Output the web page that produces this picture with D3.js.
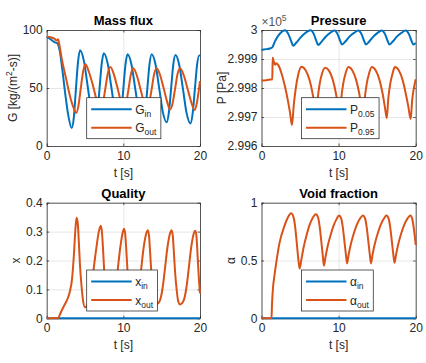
<!DOCTYPE html>
<html><head><meta charset="utf-8">
<script src="https://cdn.jsdelivr.net/npm/d3@7"></script>
<style>
body{margin:0;background:#fff;}
svg{display:block;font-family:"Liberation Sans",Arial,Helvetica,sans-serif;}
</style></head><body>
<svg id="c" width="426" height="363"></svg>
<script>
// ---------- data ----------
const timeTicks = [0, 10, 20];
const timeTickLabels = ["0", "10", "20"];
const gTicks = [0, 50, 100];
const gTickLabels = ["0", "50", "100"];
const pTicks = [299600, 299700, 299800, 299900, 300000];
const pTickLabels = ["2.996", "2.997", "2.998", "2.999", "3"];
const xTicks = [0, 0.1, 0.2, 0.3, 0.4];
const xTickLabels = ["0", "0.1", "0.2", "0.3", "0.4"];
const aTicks = [0, 0.5, 1];
const aTickLabels = ["0", "0.5", "1"];

// Mass flux, inlet
const gInT = [0,0.5,1.0,1.4,1.7,2.0,2.4,2.8,3.26,3.53,3.8,4.08,4.35,4.85,5.35,5.85,6.35,6.63,6.9,7.18,7.45,7.95,8.45,8.95,9.45,9.73,10.0,10.28,10.55,11.05,11.55,12.05,12.55,12.84,13.13,13.41,13.7,14.19,14.68,15.16,15.65,15.94,16.23,16.51,16.8,17.29,17.78,18.26,18.75,19.04,19.33,19.61,19.9,20];
const gInV = [94,92,89.5,88.5,82,68,46,27,15.5,24,48,72,82.5,73.4,51.3,29.1,20,28.8,50,71.2,80,71.2,50,28.8,20,28.6,49.5,70.4,79,70.4,49.5,28.6,20,28.6,49.5,70.4,79,70.5,49.75,29,20.5,29,49.5,70,78.5,69.9,49,28.1,19.5,28,48.75,69.5,78,77.8];
// Mass flux, outlet
const gOutT = [0,0.5,1.0,1.3,1.5,1.6,2.0,2.5,3.0,3.5,3.85,4.15,4.45,4.75,5.05,5.5,6.0,6.5,7.0,7.32,7.65,7.97,8.3,8.75,9.2,9.65,10.05,10.36,10.68,10.99,11.3,11.75,12.2,12.65,13.05,13.37,13.7,14.02,14.35,14.8,15.25,15.7,16.1,16.42,16.75,17.07,17.4,17.88,18.35,18.85,19.3,19.6,19.8,20];
const gOutV = [94.5,93.8,92.5,91,92,89,74,59,44,33,28.5,35,50,64,70.4,64,53,40,31,36.5,49.5,62.5,68,62,51,39,31.5,36.7,49.3,62,67,61,50,38.5,31.5,36.7,49.3,62,67,61,50,38.5,31.5,36.7,49.3,62,67,61,50,38,31,37.5,46,56];

// Pressure at z = 0.05
const p05T = [0,0.6,1.2,1.4,1.8,2.4,3.05,3.5,3.85,4.1,4.5,5.0,5.6,6.35,6.8,7.1,7.35,7.8,8.3,8.9,9.45,9.9,10.2,10.45,10.9,11.4,12.0,12.55,13.0,13.3,13.55,14.0,14.5,15.05,15.6,16.05,16.35,16.6,17.05,17.55,18.15,18.7,19.15,19.45,19.7,20];
const p05V = [299931,299934,299937,299940,299964,299988,299999,299985,299962,299946,299956,299972,299988,299999,299985,299963,299948,299960,299976,299990,299998,299984,299963,299950,299961,299977,299990,299998,299984,299963,299950,299961,299977,299990,299998,299984,299963,299950,299961,299977,299990,299998,299984,299963,299950,299955];
// Pressure at z = 0.95
const p95T = [0,0.6,1.2,1.4,1.45,1.6,1.75,1.9,2.2,2.6,3.0,3.4,3.7,3.95,4.2,4.45,4.75,5.2,5.7,6.2,6.6,6.9,7.1,7.3,7.55,7.85,8.25,8.75,9.25,9.65,9.95,10.15,10.35,10.6,10.9,11.27,11.77,12.27,12.67,12.97,13.2,13.4,13.65,13.95,14.3,14.8,15.3,15.7,16.0,16.25,16.45,16.7,17.0,17.3,17.8,18.3,18.7,19.05,19.35,19.55,19.8,20];
const p95V = [299826,299827,299829,299830,299905,299890,299880,299885,299878,299850,299810,299760,299715,299672,299745,299800,299845,299873,299862,299830,299785,299735,299695,299765,299815,299850,299870,299860,299828,299782,299735,299697,299765,299815,299850,299872,299861,299828,299782,299735,299696,299765,299815,299850,299872,299861,299828,299782,299735,299696,299765,299815,299850,299872,299861,299828,299782,299735,299693,299760,299805,299830];

// Quality
const xInT = [0, 20];
const xInV = [0, 0];
const xOutT = [0,1.5,1.75,2.2,2.6,3.0,3.3,3.55,3.75,3.9,4.05,4.2,4.35,4.55,4.75,5.0,5.3,5.6,5.85,6.1,6.5,6.8,7.05,7.2,7.35,7.5,7.7,7.9,8.15,8.45,8.75,9.0,9.25,9.6,9.9,10.1,10.25,10.4,10.55,10.75,10.95,11.2,11.5,11.8,12.05,12.3,12.65,12.95,13.2,13.35,13.5,13.65,13.85,14.05,14.3,14.6,14.9,15.15,15.4,15.75,16.05,16.3,16.45,16.6,16.75,16.95,17.15,17.4,17.7,18.0,18.25,18.5,18.85,19.15,19.4,19.55,19.7,19.85,20];
const xOutV = [0,0,0.015,0.04,0.06,0.09,0.135,0.22,0.31,0.348,0.33,0.26,0.18,0.11,0.06,0.038,0.045,0.07,0.11,0.165,0.248,0.30,0.32,0.30,0.24,0.165,0.10,0.06,0.045,0.05,0.072,0.11,0.165,0.245,0.295,0.31,0.29,0.23,0.16,0.10,0.06,0.047,0.052,0.073,0.11,0.165,0.245,0.29,0.305,0.285,0.225,0.16,0.10,0.06,0.048,0.053,0.073,0.11,0.165,0.245,0.29,0.305,0.285,0.225,0.16,0.10,0.06,0.048,0.053,0.073,0.11,0.165,0.245,0.29,0.303,0.28,0.21,0.14,0.086];

// Void fraction
const aInT = [0, 20];
const aInV = [0, 0];
const aOutT = [0,1.3,1.35,1.47,1.7,1.9,2.33,2.98,3.4,3.85,4.15,4.35,4.55,4.75,4.95,5.15,5.45,5.85,6.25,6.65,7.05,7.35,7.55,7.75,7.95,8.1,8.3,8.6,9.0,9.4,9.75,10.05,10.35,10.55,10.75,10.95,11.1,11.3,11.6,12.0,12.4,12.8,13.15,13.45,13.65,13.85,14.05,14.2,14.4,14.7,15.1,15.5,15.9,16.2,16.5,16.7,16.9,17.1,17.25,17.45,17.75,18.15,18.55,18.95,19.3,19.55,19.75,19.9,20];
const aOutV = [0,0,0.1,0.245,0.38,0.475,0.65,0.8,0.87,0.908,0.875,0.80,0.67,0.53,0.43,0.5,0.61,0.72,0.81,0.87,0.90,0.87,0.79,0.67,0.54,0.455,0.53,0.63,0.73,0.81,0.86,0.89,0.86,0.785,0.67,0.55,0.475,0.55,0.645,0.74,0.815,0.865,0.89,0.86,0.785,0.67,0.55,0.475,0.55,0.645,0.74,0.815,0.865,0.89,0.86,0.785,0.67,0.55,0.48,0.55,0.645,0.74,0.815,0.865,0.89,0.86,0.78,0.70,0.634];

// ---------- drawing ----------
const blue = "#0072BD", orange = "#D95319";
const ink = "#262626";
const svg = d3.select("#c");

const panels = [
  { box: [46.7, 30, 200, 146], title: "Mass flux", ydom: [0, 100], yticks: gTicks, ylabs: gTickLabels,
    ylabel: [["G [kg/(m", 0], ["2", 1], ["-s)]", 0]], ylabX: -30.2,
    series: [{ t: gInT, v: gInV, c: blue, name: ["G", "in"] }, { t: gOutT, v: gOutV, c: orange, name: ["G", "out"] }] },
  { box: [261.5, 30, 415.7, 146], title: "Pressure", ydom: [299600, 300000], yticks: pTicks, ylabs: pTickLabels,
    ylabel: [["P [Pa]", 0]], ylabX: -36, exponent: true,
    series: [{ t: p05T, v: p05V, c: blue, name: ["P", "0.05"] }, { t: p95T, v: p95V, c: orange, name: ["P", "0.95"] }] },
  { box: [46.7, 202.7, 200, 318.3], title: "Quality", ydom: [0, 0.4], yticks: xTicks, ylabs: xTickLabels,
    ylabel: [["x", 0]], ylabX: -26.5,
    series: [{ t: xInT, v: xInV, c: blue, name: ["x", "in"] }, { t: xOutT, v: xOutV, c: orange, name: ["x", "out"] }] },
  { box: [261.5, 202.7, 415.7, 318.3], title: "Void fraction", ydom: [0, 1], yticks: aTicks, ylabs: aTickLabels,
    ylabel: [["α", 0]], ylabX: -26.5,
    series: [{ t: aInT, v: aInV, c: blue, name: ["α", "in"] }, { t: aOutT, v: aOutV, c: orange, name: ["α", "out"] }] }
];

function styleAxis(s) {
  s.attr("font-family", null).attr("font-size", 12);
  s.selectAll("text").attr("fill", ink);
  s.selectAll("line").attr("stroke", ink).attr("stroke-width", 0.75);
  s.select(".domain").attr("stroke", ink).attr("stroke-width", 0.75);
}

panels.forEach((p, i) => {
  const [x0, y0, x1, y1] = p.box;
  const w = x1 - x0, h = y1 - y0;
  const x = d3.scaleLinear().domain([0, 20]).range([x0, x1]);
  const y = d3.scaleLinear().domain(p.ydom).range([y1, y0]);
  const g = svg.append("g");

  // white background
  g.append("rect").attr("x", x0).attr("y", y0).attr("width", w).attr("height", h).attr("fill", "#fff");

  // grid
  g.append("g").attr("transform", `translate(0,${y1})`)
    .call(d3.axisBottom(x).tickValues(timeTicks).tickSize(-h).tickFormat(""))
    .call(s => { s.select(".domain").remove(); s.selectAll("line").attr("stroke", "#dfdfdf").attr("stroke-width", 0.75); });
  g.append("g").attr("transform", `translate(${x0},0)`)
    .call(d3.axisLeft(y).tickValues(p.yticks).tickSize(-w).tickFormat(""))
    .call(s => { s.select(".domain").remove(); s.selectAll("line").attr("stroke", "#dfdfdf").attr("stroke-width", 0.75); });

  // axes (box with inward ticks)
  g.append("g").attr("transform", `translate(0,${y1})`)
    .call(d3.axisBottom(x).tickValues(timeTicks).tickFormat((d, k) => timeTickLabels[k]).tickSizeInner(-2.5).tickSizeOuter(0).tickPadding(5.5))
    .call(styleAxis);
  g.append("g").attr("transform", `translate(0,${y0})`)
    .call(d3.axisTop(x).tickValues(timeTicks).tickFormat("").tickSizeInner(-2.5).tickSizeOuter(0))
    .call(styleAxis);
  g.append("g").attr("transform", `translate(${x0},0)`)
    .call(d3.axisLeft(y).tickValues(p.yticks).tickFormat((d, k) => p.ylabs[k]).tickSizeInner(-2.5).tickSizeOuter(0).tickPadding(4))
    .call(styleAxis);
  g.append("g").attr("transform", `translate(${x1},0)`)
    .call(d3.axisRight(y).tickValues(p.yticks).tickFormat("").tickSizeInner(-2.5).tickSizeOuter(0))
    .call(styleAxis);

  // clip
  const cid = "clip" + i;
  svg.append("clipPath").attr("id", cid).append("rect")
    .attr("x", x0 - 1.5).attr("y", y0 - 1.5).attr("width", w + 3).attr("height", h + 3);

  const line = d3.line().x(d => x(d[0])).y(d => y(d[1])).curve(d3.curveMonotoneX);
  const lg = g.append("g").attr("clip-path", `url(#${cid})`);
  p.series.forEach(s => {
    lg.append("path").datum(d3.zip(s.t, s.v)).attr("d", line)
      .attr("fill", "none").attr("stroke", s.c).attr("stroke-width", 2).attr("stroke-linejoin", "round");
  });

  // title
  g.append("text").attr("x", (x0 + x1) / 2).attr("y", y0 - 5).attr("text-anchor", "middle")
    .attr("font-size", 13).attr("font-weight", "bold").attr("fill", "#000").text(p.title);

  // y label
  const yl = g.append("text").attr("transform", `translate(${x0 + p.ylabX},${(y0 + y1) / 2}) rotate(-90)`)
    .attr("text-anchor", "middle").attr("font-size", 12).attr("fill", ink);
  p.ylabel.forEach(([txt, sup]) => {
    const ts = yl.append("tspan").text(txt);
    if (sup) ts.attr("font-size", 8.5).attr("dy", -5);
    else if (yl.selectAll("tspan").size() > 1) ts.attr("dy", 5);
  });

  // x label
  g.append("text").attr("x", (x0 + x1) / 2).attr("y", y1 + 31).attr("text-anchor", "middle")
    .attr("font-size", 12).attr("fill", ink).text("t [s]");

  // exponent
  if (p.exponent) {
    const ex = g.append("text").attr("x", x0).attr("y", y0 - 4).attr("font-size", 12).attr("fill", "#555");
    ex.append("tspan").text("×10");
    ex.append("tspan").attr("font-size", 8.5).attr("dy", -5).text("5");
  }

  // legend
  const lgH = 41;
  const leg = g.append("g").attr("transform", `translate(${x0 + 40},${y1 - 7.3 - lgH})`);
  const frame = leg.append("rect").attr("height", lgH).attr("fill", "#fff").attr("stroke", ink).attr("stroke-width", 0.75);
  const rows = [11.5, 30];
  let maxW = 0;
  p.series.forEach((s, k) => {
    leg.append("line").attr("x1", 4.5).attr("x2", 45).attr("y1", rows[k]).attr("y2", rows[k])
      .attr("stroke", s.c).attr("stroke-width", 2);
    const t = leg.append("text").attr("x", 48.5).attr("y", rows[k] + 4.5).attr("font-size", 12).attr("fill", ink);
    t.append("tspan").text(s.name[0]);
    t.append("tspan").attr("font-size", 8.5).attr("dy", 3).text(s.name[1]);
    maxW = Math.max(maxW, t.node().getComputedTextLength());
  });
  frame.attr("width", 48.5 + maxW + 4.5);
});
</script>
</body></html>
